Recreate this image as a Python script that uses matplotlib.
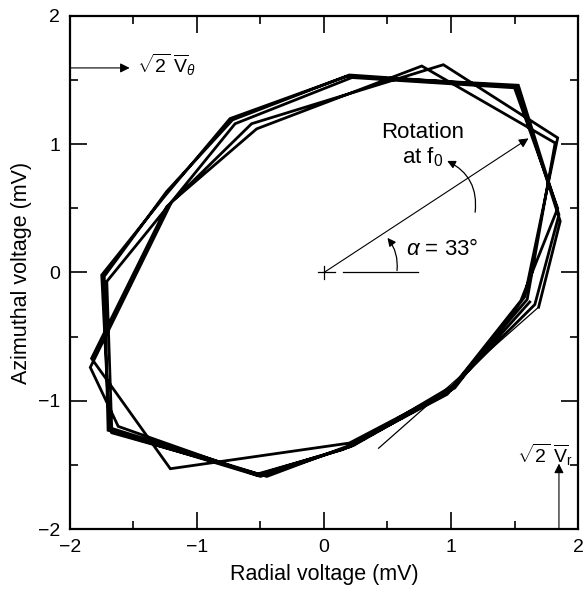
#Rotating field trace: azimuthal vs radial voltage
import matplotlib
matplotlib.use('Agg')
import matplotlib.pyplot as plt
from matplotlib.patches import FancyArrowPatch
from matplotlib.ticker import MultipleLocator
import numpy as np

plt.rcParams['font.family'] = ['Liberation Sans', 'DejaVu Sans']
plt.rcParams['mathtext.fontset'] = 'custom'
plt.rcParams['mathtext.rm'] = 'Liberation Sans'
plt.rcParams['mathtext.it'] = 'Liberation Sans:italic'

#thin lead-in segment of the trace
lead_x = [0.43, 1.69]
lead_y = [-1.37, -0.27]

#successive loops of the trace
loop1_x = [1.69, 1.86, 1.52, 0.20, -0.72, -1.24, -1.73, -1.70, -0.50, 0.23, 1.03, 1.58]
loop1_y = [-0.27, 0.40, 1.45, 1.54, 1.19, 0.63, -0.03, -1.23, -1.59, -1.35, -0.90, -0.19]
loop2_x = [1.84, 0.94, -0.57, -1.24, -1.83, -1.21, 0.20, 0.99, 1.55]
loop2_y = [1.05, 1.62, 1.16, 0.51, -0.67, -1.53, -1.33, -0.92, -0.22]
loop3_x = [1.84, 1.50, 0.22, -0.70, -1.71, -1.67, -0.45, 0.25, 1.02, 1.60]
loop3_y = [0.50, 1.44, 1.52, 1.16, -0.07, -1.25, -1.59, -1.33, -0.88, -0.21]
loop4_x = [1.82, 0.77, -0.53, -1.20, -1.84, -1.62, -0.53, 0.20, 0.95, 1.66]
loop4_y = [1.01, 1.61, 1.12, 0.55, -0.74, -1.20, -1.58, -1.36, -0.95, -0.25]
loop5_x = [1.85, 1.53, 0.18, -0.74, -1.25, -1.75, -1.69, -0.52, 0.15, 0.97, 1.62]
loop5_y = [0.45, 1.46, 1.53, 1.20, 0.60, -0.02, -1.21, -1.57, -1.38, -0.95, -0.23]

alpha_deg = 33
ticks = [-2, -1, 0, 1, 2]

fig = plt.figure(figsize=(5.88, 5.92), dpi=100)
ax = fig.add_axes([0.119, 0.1064, 0.864, 0.8666])

trace_x = loop1_x + loop2_x + loop3_x + loop4_x + loop5_x
trace_y = loop1_y + loop2_y + loop3_y + loop4_y + loop5_y
ax.plot(lead_x, lead_y, color='k', lw=0.9)
ax.plot(trace_x, trace_y, color='k', lw=2.0, solid_joinstyle='miter')

#origin cross and base line of the angle
ax.plot([-0.05, 0.09], [0, 0], color='k', lw=0.9)
ax.plot([0, 0], [-0.05, 0.05], color='k', lw=0.9)
ax.plot([0.15, 0.74], [0, 0], color='k', lw=0.9)

#radial arrow at alpha
r = 1.92
ax.annotate('', xy=(r * np.cos(np.radians(alpha_deg)), r * np.sin(np.radians(alpha_deg))),
            xytext=(0, 0),
            arrowprops=dict(arrowstyle='-|>', lw=0.8, color='k', mutation_scale=14, shrinkA=0, shrinkB=0))

#angle arc
arc = FancyArrowPatch((0.575, 0.015), (0.50, 0.27), connectionstyle='arc3,rad=0.2',
                      arrowstyle='-|>', mutation_scale=12, lw=0.9, color='k', shrinkA=0, shrinkB=0)
ax.add_patch(arc)
ax.text(0.93, 0.18, '$\\alpha$ = 33°', fontsize=16, ha='center', va='center')

#rotation arrow
rot = FancyArrowPatch((1.19, 0.47), (0.97, 0.87), connectionstyle='arc3,rad=0.35',
                      arrowstyle='-|>', mutation_scale=12, lw=0.9, color='k', shrinkA=0, shrinkB=0)
ax.add_patch(rot)
ax.text(0.78, 0.99, 'Rotation\nat f$_0$', fontsize=16, ha='center', va='center', linespacing=1.1)

#scale markers
ax.annotate('', xy=(-1.53, 1.595), xytext=(-2, 1.595),
            arrowprops=dict(arrowstyle='-|>', lw=0.8, color='k', mutation_scale=14, shrinkA=0, shrinkB=0))
ax.text(-1.47, 1.62, '$\\sqrt{2}\\ \\overline{\\mathrm{V}}_\\theta$', fontsize=14, ha='left', va='center')
ax.annotate('', xy=(1.85, -1.49), xytext=(1.85, -2),
            arrowprops=dict(arrowstyle='-|>', lw=0.8, color='k', mutation_scale=14, shrinkA=0, shrinkB=0))
ax.text(1.96, -1.42, '$\\sqrt{2}\\ \\overline{\\mathrm{V}}_\\mathrm{r}$', fontsize=14, ha='right', va='center',
        clip_on=False)

ax.set_xlim(-2, 2)
ax.set_ylim(-2, 2)
ax.set_xticks(ticks)
ax.set_yticks(ticks)
ax.xaxis.set_minor_locator(MultipleLocator(0.5))
ax.yaxis.set_minor_locator(MultipleLocator(0.5))
ax.tick_params(which='both', direction='in', top=True, right=True, labelsize=14, width=1.2)
ax.tick_params(which='major', length=12, pad=7)
ax.tick_params(which='minor', length=6)
for s in ax.spines.values():
    s.set_linewidth(1.6)

ax.set_xlabel('Radial voltage (mV)', fontsize=15.5, labelpad=6)
ax.set_ylabel('Azimuthal voltage (mV)', fontsize=15.5, labelpad=4)

fig.savefig('out.png', dpi=100)
